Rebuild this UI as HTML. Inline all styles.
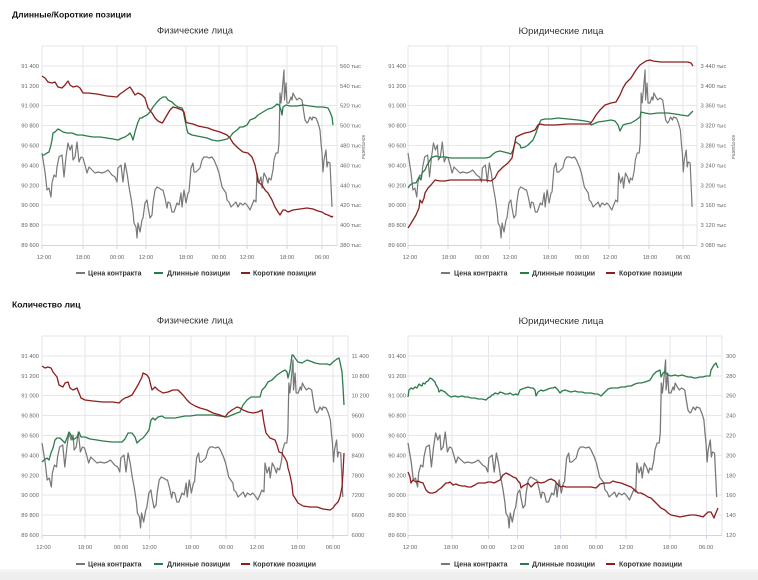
<!DOCTYPE html>
<html><head><meta charset="utf-8">
<style>
html,body{margin:0;padding:0;background:#fff;}
svg{display:block;font-family:"Liberation Sans","Noto Sans CJK SC",sans-serif;}
.g{stroke:#e6e6ec;stroke-width:1;fill:none;}
.ax{stroke:#ccd6eb;stroke-width:1;fill:none;}
.yl{font-size:5.8px;fill:#666;text-anchor:end;}
.yr{font-size:5.8px;fill:#666;text-anchor:start;}
.xl{font-size:5.8px;fill:#666;text-anchor:middle;}
.tt{font-size:9.5px;fill:#333;text-anchor:middle;}
.hd{font-size:8.6px;fill:#111;font-weight:bold;}
.lg{font-size:7px;fill:#333;font-weight:bold;}
.pr{stroke:#787878;stroke-width:1.2;fill:none;stroke-linejoin:round;}
.gr{stroke:#2a7d4a;stroke-width:1.3;fill:none;stroke-linejoin:round;}
.rd{stroke:#8e1d1d;stroke-width:1.3;fill:none;stroke-linejoin:round;}
</style></head>
<body>
<svg width="758" height="580" viewBox="0 0 758 580" xmlns="http://www.w3.org/2000/svg">
<defs>
<path id="price" class="pr" d="M42,153 L45,172 L47,190 L49,188 L51,197 L52,183 L54,175 L56,177 L57,167 L59,157 L62,155 L64,177 L66,157 L68,143 L70,150 L72,145 L73,160 L75,157 L77,142 L79,162 L81,157 L83,158 L85,165 L87,173 L89,167 L92,170 L95,173 L98,172 L102,173 L105,172 L108,170 L112,175 L115,177 L117,182 L118,168 L121,165 L123,182 L125,163 L127,173 L129,187 L131,198 L133,212 L134,223 L136,227 L137,238 L138,223 L140,232 L142,220 L143,218 L145,203 L147,200 L148,207 L150,218 L152,215 L153,203 L155,190 L157,187 L159,188 L162,190 L163,190 L165,198 L167,208 L168,202 L170,203 L172,212 L174,212 L177,203 L179,205 L181,193 L182,207 L184,190 L186,203 L188,193 L189,192 L191,168 L193,163 L194,172 L196,172 L198,170 L200,168 L202,160 L204,157 L207,157 L209,158 L212,157 L214,160 L217,167 L219,173 L221,182 L222,187 L224,190 L226,193 L227,200 L229,202 L231,207 L233,205 L236,202 L238,207 L240,203 L243,205 L245,203 L247,205 L250,210 L252,205 L254,200 L256,202 L257,173 L259,183 L261,177 L262,188 L264,173 L266,177 L268,183 L269,178 L271,180 L273,170 L274,160 L276,153 L278,153 L279,143 L280,93 L281,103 L282,93 L284,70 L284.5,100 L286,83 L287,103 L289,103 L291,97 L292,100 L293,93 L295,97 L297,100 L299,98 L302,100 L303,107 L305,120 L307,123 L308,122 L310,117 L312,120 L313,117 L316,118 L318,123 L320,130 L321,143 L322,153 L323,172 L324,160 L326,150 L327,167 L328,162 L330,163 L332,207"/>
</defs>

<!-- headers -->
<text class="hd" x="12" y="17.5">Длинные/Короткие позиции</text>
<text class="hd" x="12" y="307.5">Количество лиц</text>
<text class="tt" x="195" y="33.5">Физические лица</text>
<text class="tt" x="561" y="34">Юридические лица</text>
<text class="tt" x="195" y="323.5">Физические лица</text>
<text class="tt" x="561" y="324">Юридические лица</text>

<!-- ========== TOP LEFT ========== -->
<path class="g" d="M42,46H337M42,66H337M42,86H337M42,105.5H337M42,125.5H337M42,145.5H337M42,165.5H337M42,185.5H337M42,205H337M42,225H337"/>
<path class="g" d="M42,46V246M83,46V246M117,46V246M146,46V246M186,46V246M219,46V246M247,46V246M287,46V246M322,46V246M337,46V246"/>
<path class="ax" d="M42,245.5H337M42,245.5V249M83,245.5V249M117,245.5V249M146,245.5V249M186,245.5V249M219,245.5V249M247,245.5V249M287,245.5V249M322,245.5V249"/>
<g class="yl"><text x="39" y="68">91 400</text><text x="39" y="88">91 200</text><text x="39" y="107.5">91 000</text><text x="39" y="127.5">90 800</text><text x="39" y="147.5">90 600</text><text x="39" y="167.5">90 400</text><text x="39" y="187.5">90 200</text><text x="39" y="207">90 000</text><text x="39" y="227">89 800</text><text x="39" y="247">89 600</text></g>
<g class="yr"><text x="340" y="68">560 тыс</text><text x="340" y="88">540 тыс</text><text x="340" y="107.5">520 тыс</text><text x="340" y="127.5">500 тыс</text><text x="340" y="147.5">480 тыс</text><text x="340" y="167.5">460 тыс</text><text x="340" y="187.5">440 тыс</text><text x="340" y="207">420 тыс</text><text x="340" y="227">400 тыс</text><text x="340" y="247">380 тыс</text></g>
<text x="0" y="0" font-size="5px" fill="#666" text-anchor="middle" transform="translate(362,147) rotate(90)">контракты</text>
<g class="xl"><text x="44" y="259">12:00</text><text x="83" y="259">18:00</text><text x="117" y="259">00:00</text><text x="146" y="259">12:00</text><text x="186" y="259">18:00</text><text x="219" y="259">00:00</text><text x="247" y="259">12:00</text><text x="287" y="259">18:00</text><text x="322" y="259">06:00</text></g>
<use href="#price"/>
<path class="gr" d="M42,155 L44,155 L47,153 L49,152 L51,145 L52,140 L53,133 L55,132 L57,130 L58,129 L60,130 L63,132 L67,133 L72,133 L77,135 L82,135 L87,136 L93,137 L100,137 L107,138 L113,139 L118,140 L122,138 L125,137 L128,135 L130,133 L132,137 L133,140 L135,132 L137,125 L138,122 L140,118 L142,118 L143,117 L147,115 L150,112 L153,107 L157,102 L160,99 L163,97 L166,97 L168,100 L172,102 L175,105 L178,107 L182,108 L183,110 L185,120 L187,130 L188,133 L192,135 L197,136 L202,137 L207,138 L212,140 L218,141 L223,140 L227,139 L230,137 L233,133 L237,130 L240,127 L243,127 L247,125 L250,120 L255,118 L258,115 L263,112 L268,109 L272,108 L275,106 L277,104 L279,105 L281,110 L282,115 L283,107 L286,105 L290,106 L297,106 L303,105 L310,106 L317,107 L323,107 L328,108 L330,112 L332,117 L333,125"/>
<path class="rd" d="M42,76 L45,78 L48,82 L52,83 L55,82 L58,87 L62,88 L65,85 L68,81 L70,85 L73,87 L77,86 L80,88 L83,93 L88,93 L97,94 L107,96 L117,97 L120,94 L123,92 L127,89 L130,87 L132,90 L135,95 L138,93 L142,95 L145,98 L148,108 L152,113 L155,118 L158,121 L162,123 L163,122 L167,115 L170,110 L173,107 L177,108 L182,110 L184,112 L186,122 L188,123 L193,124 L198,126 L203,127 L208,128 L213,130 L220,132 L227,135 L230,138 L233,143 L238,148 L243,152 L248,153 L252,157 L255,165 L257,175 L258,182 L262,185 L265,190 L268,193 L272,200 L275,207 L278,212 L280,215 L283,210 L285,210 L288,212 L293,210 L300,209 L307,208 L313,209 L318,211 L322,212 L325,214 L328,215 L332,217 L333,216"/>
<g>
<line x1="76" y1="273" x2="85" y2="273" stroke="#787878" stroke-width="2"/><text class="lg" x="88" y="275.5">Цена контракта</text>
<line x1="154" y1="273" x2="163" y2="273" stroke="#2a7d4a" stroke-width="2"/><text class="lg" x="167" y="275.5">Длинные позиции</text>
<line x1="241" y1="273" x2="250" y2="273" stroke="#8e1d1d" stroke-width="2"/><text class="lg" x="253" y="275.5">Короткие позиции</text>
</g>

<!-- ========== TOP RIGHT ========== -->
<path class="g" d="M408,46H697M408,66H697M408,86H697M408,105.5H697M408,125.5H697M408,145.5H697M408,165.5H697M408,185.5H697M408,205H697M408,225H697"/>
<path class="g" d="M408,46V246M448,46V246M481,46V246M509.5,46V246M548.5,46V246M581,46V246M609,46V246M649,46V246M683,46V246M697,46V246"/>
<path class="ax" d="M408,245.5H697M408,245.5V249M448,245.5V249M481,245.5V249M509.5,245.5V249M548.5,245.5V249M581,245.5V249M609,245.5V249M649,245.5V249M683,245.5V249"/>
<g class="yl"><text x="406" y="68">91 400</text><text x="406" y="88">91 200</text><text x="406" y="107.5">91 000</text><text x="406" y="127.5">90 800</text><text x="406" y="147.5">90 600</text><text x="406" y="167.5">90 400</text><text x="406" y="187.5">90 200</text><text x="406" y="207">90 000</text><text x="406" y="227">89 800</text><text x="406" y="247">89 600</text></g>
<g class="yr"><text x="700.5" y="68">3 440 тыс</text><text x="700.5" y="88">3 400 тыс</text><text x="700.5" y="107.5">3 360 тыс</text><text x="700.5" y="127.5">3 320 тыс</text><text x="700.5" y="147.5">3 280 тыс</text><text x="700.5" y="167.5">3 240 тыс</text><text x="700.5" y="187.5">3 200 тыс</text><text x="700.5" y="207">3 160 тыс</text><text x="700.5" y="227">3 120 тыс</text><text x="700.5" y="247">3 080 тыс</text></g>
<text x="0" y="0" font-size="5px" fill="#666" text-anchor="middle" transform="translate(732,147) rotate(90)">контракты</text>
<g class="xl"><text x="410" y="259">12:00</text><text x="449" y="259">18:00</text><text x="482" y="259">00:00</text><text x="510" y="259">12:00</text><text x="550" y="259">18:00</text><text x="582" y="259">00:00</text><text x="610" y="259">12:00</text><text x="650" y="259">18:00</text><text x="683" y="259">06:00</text></g>
<use href="#price" transform="matrix(0.9797,0,0,1,366.85,0)"/>
<path class="gr" d="M408,188 L410,185 L413,183 L416,183 L419,177 L421,180 L422,173 L425,170 L427,165 L429,162 L431,158 L433,157 L436,156 L440,157 L445,157 L451,158 L461,158 L471,158 L481,158 L486,158 L490,157 L493,154 L496,152 L500,151 L504,152 L508,153 L511,154 L513,150 L515,143 L516,142 L520,145 L521,148 L525,147 L528,145 L531,142 L533,140 L536,133 L538,127 L540,122 L541,120 L545,119 L551,119 L558,118 L568,119 L578,120 L585,121 L590,122 L591,125 L598,122 L605,121 L611,120 L615,121 L618,125 L620,131 L623,125 L626,124 L631,123 L636,120 L640,117 L641,112 L645,113 L650,114 L658,113 L668,113 L675,114 L681,115 L688,116 L691,113 L693,111"/>
<path class="rd" d="M408,228 L410,225 L413,220 L416,215 L419,208 L420,200 L422,203 L424,198 L425,193 L428,188 L431,185 L435,180 L440,181 L445,181 L450,180 L461,180 L475,180 L485,180 L491,181 L495,178 L498,172 L503,167 L508,163 L512,158 L514,147 L516,137 L520,135 L525,133 L530,132 L535,130 L538,125 L540,124 L545,125 L555,125 L568,124 L581,124 L590,124 L593,120 L596,115 L600,110 L605,105 L611,103 L616,102 L620,95 L623,88 L626,83 L631,78 L636,70 L640,65 L643,63 L646,61 L650,60 L653,61 L661,62 L671,62 L681,62 L688,62 L691,63 L693,66"/>
<g>
<line x1="441" y1="273" x2="450" y2="273" stroke="#787878" stroke-width="2"/><text class="lg" x="454" y="275.5">Цена контракта</text>
<line x1="520" y1="273" x2="529" y2="273" stroke="#2a7d4a" stroke-width="2"/><text class="lg" x="532" y="275.5">Длинные позиции</text>
<line x1="606" y1="273" x2="615" y2="273" stroke="#8e1d1d" stroke-width="2"/><text class="lg" x="619" y="275.5">Короткие позиции</text>
</g>

<!-- ========== BOTTOM LEFT ========== -->
<path class="g" d="M42,336H348M42,356H348M42,376H348M42,395.5H348M42,415.5H348M42,435.5H348M42,455.5H348M42,475.5H348M42,495H348M42,515H348"/>
<path class="g" d="M42,336V536M85,336V536M120,336V536M149.5,336V536M191,336V536M226,336V536M255,336V536M297.5,336V536M333,336V536M348,336V536"/>
<path class="ax" d="M42,535.5H348M42,535.5V539M85,535.5V539M120,535.5V539M149.5,535.5V539M191,535.5V539M226,535.5V539M255,535.5V539M297.5,535.5V539M333,535.5V539"/>
<g class="yl"><text x="39" y="358">91 400</text><text x="39" y="378">91 200</text><text x="39" y="397.5">91 000</text><text x="39" y="417.5">90 800</text><text x="39" y="437.5">90 600</text><text x="39" y="457.5">90 400</text><text x="39" y="477.5">90 200</text><text x="39" y="497">90 000</text><text x="39" y="517">89 800</text><text x="39" y="537">89 600</text></g>
<g class="yr"><text x="351.5" y="358">11 400</text><text x="351.5" y="378">10 800</text><text x="351.5" y="397.5">10 200</text><text x="351.5" y="417.5">9600</text><text x="351.5" y="437.5">9000</text><text x="351.5" y="457.5">8400</text><text x="351.5" y="477.5">7800</text><text x="351.5" y="497">7200</text><text x="351.5" y="517">6600</text><text x="351.5" y="537">6000</text></g>
<g class="xl"><text x="43.5" y="549">12:00</text><text x="85" y="549">18:00</text><text x="121" y="549">00:00</text><text x="149.5" y="549">12:00</text><text x="192" y="549">18:00</text><text x="226" y="549">00:00</text><text x="257" y="549">12:00</text><text x="298" y="549">18:00</text><text x="333" y="549">06:00</text></g>
<use href="#price" transform="matrix(1.0373,0,0,1,-1.57,290)"/>
<path class="gr" d="M42,462 L44,460 L47,458 L49,460 L51,453 L53,448 L55,440 L57,438 L60,438 L62,440 L65,443 L67,438 L69,432 L71,435 L73,440 L77,437 L79,432 L81,437 L85,437 L90,439 L97,440 L103,441 L112,442 L120,442 L122,442 L125,439 L128,433 L132,433 L135,437 L137,443 L140,440 L143,438 L147,433 L149,430 L151,420 L153,418 L155,420 L158,417 L162,416 L165,418 L170,418 L175,418 L180,417 L185,416 L190,416 L197,415 L207,415 L213,415 L220,416 L227,417 L232,415 L237,413 L240,412 L243,405 L247,400 L251,397 L255,397 L260,397 L262,390 L265,387 L268,382 L272,380 L275,377 L277,375 L280,373 L283,371 L285,370 L287,372 L288,378 L290,370 L292,355 L293,355 L295,358 L298,362 L302,363 L307,360 L310,361 L315,363 L320,364 L327,364 L330,365 L333,362 L337,359 L339,358 L340,362 L342,372 L343,387 L344,405"/>
<path class="rd" d="M42,366 L45,368 L48,367 L51,368 L53,372 L57,377 L59,385 L63,387 L65,383 L68,382 L70,388 L73,390 L77,388 L79,393 L81,398 L85,400 L93,401 L103,402 L113,402 L119,403 L122,400 L125,398 L128,397 L132,395 L135,390 L138,385 L142,377 L143,373 L147,375 L149,378 L152,390 L155,387 L158,390 L163,393 L168,392 L173,390 L178,390 L183,395 L187,400 L190,403 L195,406 L200,408 L207,410 L213,413 L220,415 L225,417 L228,413 L232,410 L237,407 L240,408 L243,410 L248,412 L253,413 L258,412 L262,410 L264,423 L266,433 L270,438 L275,440 L277,445 L279,452 L282,453 L283,455 L285,458 L287,462 L288,468 L290,475 L292,485 L293,495 L295,498 L298,503 L303,506 L310,507 L317,507 L323,509 L330,510 L333,508 L335,505 L338,502 L340,497 L342,487 L343,473 L344,453"/>
<g>
<line x1="76" y1="564" x2="85" y2="564" stroke="#787878" stroke-width="2"/><text class="lg" x="88" y="566.5">Цена контракта</text>
<line x1="154" y1="564" x2="163" y2="564" stroke="#2a7d4a" stroke-width="2"/><text class="lg" x="167" y="566.5">Длинные позиции</text>
<line x1="241" y1="564" x2="250" y2="564" stroke="#8e1d1d" stroke-width="2"/><text class="lg" x="253" y="566.5">Короткие позиции</text>
</g>

<!-- ========== BOTTOM RIGHT ========== -->
<path class="g" d="M408,336H722M408,356H722M408,376H722M408,395.5H722M408,415.5H722M408,435.5H722M408,455.5H722M408,475.5H722M408,495H722M408,515H722"/>
<path class="g" d="M408,336V536M452,336V536M488.5,336V536M517.5,336V536M560.5,336V536M596,336V536M626,336V536M670,336V536M706.5,336V536M722,336V536"/>
<path class="ax" d="M408,535.5H722M408,535.5V539M452,535.5V539M488.5,535.5V539M517.5,535.5V539M560.5,535.5V539M596,535.5V539M626,535.5V539M670,535.5V539M706.5,535.5V539"/>
<g class="yl"><text x="406" y="358">91 400</text><text x="406" y="378">91 200</text><text x="406" y="397.5">91 000</text><text x="406" y="417.5">90 800</text><text x="406" y="437.5">90 600</text><text x="406" y="457.5">90 400</text><text x="406" y="477.5">90 200</text><text x="406" y="497">90 000</text><text x="406" y="517">89 800</text><text x="406" y="537">89 600</text></g>
<g class="yr"><text x="726" y="358">300</text><text x="726" y="378">280</text><text x="726" y="397.5">260</text><text x="726" y="417.5">240</text><text x="726" y="437.5">220</text><text x="726" y="457.5">200</text><text x="726" y="477.5">180</text><text x="726" y="497">160</text><text x="726" y="517">140</text><text x="726" y="537">120</text></g>
<g class="xl"><text x="410" y="549">12:00</text><text x="451" y="549">18:00</text><text x="488" y="549">00:00</text><text x="517" y="549">12:00</text><text x="561" y="549">18:00</text><text x="596" y="549">00:00</text><text x="626" y="549">12:00</text><text x="670" y="549">18:00</text><text x="706" y="549">06:00</text></g>
<use href="#price" transform="matrix(1.0644,0,0,1,363.3,290)"/>
<path class="gr" d="M408,397 L409,390 L411,388 L413,389 L415,387 L417,388 L419,384 L420,385 L422,386 L423,383 L425,384 L426,382 L428,381 L430,378 L432,379 L433,380 L435,382 L436,385 L438,388 L439,392 L441,390 L443,391 L445,392 L447,394 L448,395 L451,397 L455,396 L458,397 L462,396 L465,397 L468,397 L471,398 L475,398 L478,399 L482,399 L486,400 L488,398 L490,397 L492,395 L493,395 L495,393 L498,394 L500,392 L503,393 L505,394 L508,394 L510,393 L513,395 L516,394 L518,395 L520,390 L522,389 L525,388 L528,387 L531,388 L533,388 L535,390 L536,396 L538,392 L541,390 L543,391 L546,390 L548,389 L551,388 L553,388 L555,387 L558,390 L560,393 L562,391 L565,390 L568,391 L571,392 L575,391 L578,392 L582,392 L585,393 L588,393 L591,393 L595,394 L598,394 L601,396 L603,394 L605,392 L607,390 L608,389 L611,388 L614,388 L618,388 L621,387 L625,387 L628,386 L631,386 L635,384 L638,383 L641,383 L645,382 L648,381 L650,380 L652,377 L653,375 L655,373 L656,372 L658,371 L660,370 L661,377 L663,373 L665,372 L667,374 L668,375 L671,376 L675,375 L678,376 L682,375 L685,376 L688,377 L691,377 L694,378 L696,378 L700,377 L703,377 L706,376 L710,376 L711,370 L714,365 L716,363 L718,368"/>
<path class="rd" d="M408,472 L410,477 L411,483 L413,480 L416,482 L418,481 L420,482 L423,483 L426,490 L428,492 L430,493 L433,493 L436,492 L438,490 L441,488 L443,486 L446,483 L448,483 L450,482 L453,485 L456,484 L458,485 L462,486 L465,486 L468,487 L471,487 L475,485 L478,483 L482,483 L485,483 L488,482 L491,482 L494,483 L496,482 L500,480 L503,475 L506,473 L508,474 L510,475 L513,477 L516,478 L518,481 L520,483 L521,488 L523,486 L525,485 L528,483 L531,487 L533,485 L535,483 L538,482 L541,483 L545,482 L548,480 L551,479 L555,481 L558,485 L561,487 L563,486 L566,487 L571,487 L575,487 L578,487 L582,487 L585,487 L588,487 L591,487 L596,488 L600,484 L605,483 L610,483 L613,481 L616,482 L621,483 L626,485 L631,487 L635,490 L638,493 L641,493 L645,495 L648,497 L651,498 L655,502 L658,505 L661,508 L665,510 L668,513 L671,515 L676,516 L680,517 L685,516 L690,515 L695,515 L700,516 L703,517 L705,515 L708,512 L711,512 L714,518 L715,515 L718,508"/>
<g>
<line x1="441" y1="564" x2="450" y2="564" stroke="#787878" stroke-width="2"/><text class="lg" x="454" y="566.5">Цена контракта</text>
<line x1="520" y1="564" x2="529" y2="564" stroke="#2a7d4a" stroke-width="2"/><text class="lg" x="532" y="566.5">Длинные позиции</text>
<line x1="606" y1="564" x2="615" y2="564" stroke="#8e1d1d" stroke-width="2"/><text class="lg" x="619" y="566.5">Короткие позиции</text>
</g>

<!-- bottom strip -->
<defs><linearGradient id="bs" x1="0" y1="0" x2="0" y2="1"><stop offset="0" stop-color="#f7f7f7"/><stop offset="0.4" stop-color="#efefef"/><stop offset="1" stop-color="#eeeeee"/></linearGradient></defs>
<rect x="0" y="569" width="758" height="11" fill="url(#bs)"/>
</svg>
</body></html>
